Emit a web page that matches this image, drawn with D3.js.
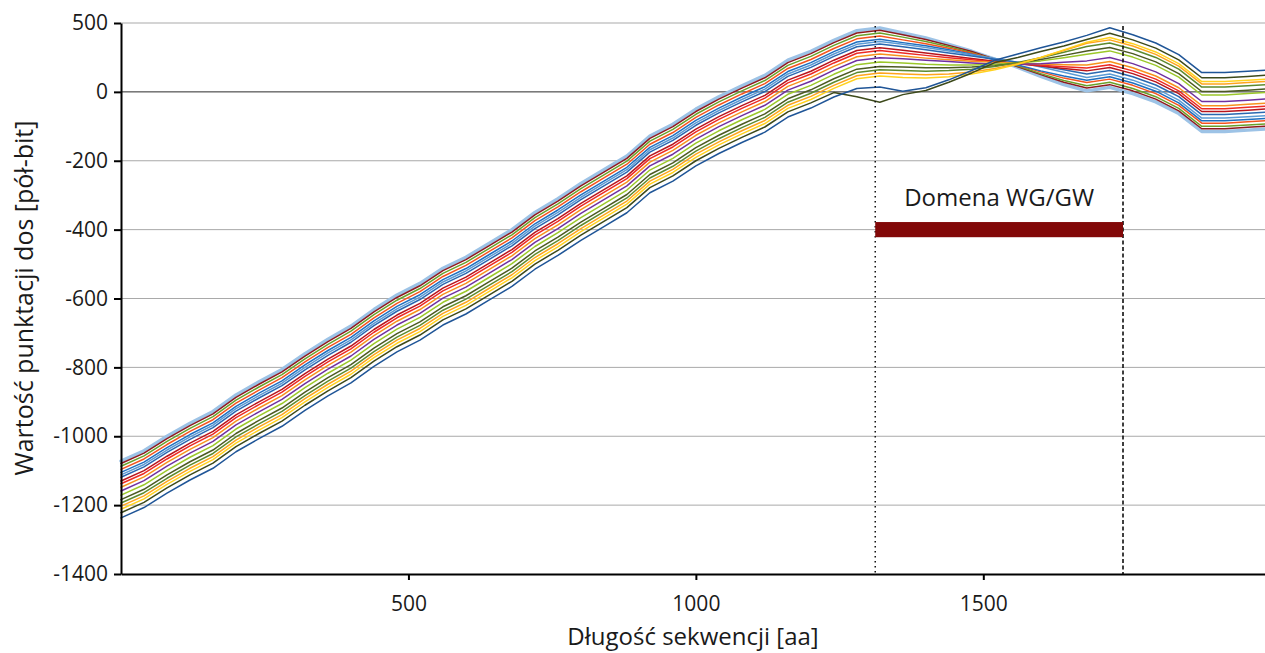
<!DOCTYPE html>
<html>
<head>
<meta charset="utf-8">
<script src="https://cdn.jsdelivr.net/npm/d3@7"></script>
<style>
  body { margin: 0; background: #ffffff; }
  svg { display: block; font-family: "Open Sans", "DejaVu Sans", sans-serif; }
</style>
</head>
<body>
<svg id="chart" width="1265" height="653"></svg>
<script>
// Sequence positions (aa) at which every score track is sampled
const positions = [0,40,80,120,160,200,240,280,320,360,400,440,480,520,560,600,640,680,720,760,800,840,880,920,960,1000,1040,1080,1120,1160,1200,1240,1280,1320,1360,1400,1440,1480,1520,1560,1600,1640,1680,1720,1760,1800,1840,1880,1920,1960,1990];

// Cumulative dot-plot scores (half-bits), one track per scoring setting
const sLightBlue  = [-1072,-1042,-1000,-962,-928,-880,-842,-806,-760,-718,-680,-632,-590,-556,-512,-480,-440,-400,-350,-310,-266,-226,-186,-128,-94,-50,-14,18,48,92,118,150,178,186,171,157,138,118,95,71,45,21,3,13,-5,-29,-63,-115,-115,-111,-108];
const sDarkRed    = [-1079,-1049,-1007,-969,-935,-887,-849,-813,-767,-725,-687,-639,-597,-563,-519,-487,-447,-407,-357,-317,-273,-233,-193,-135,-101,-57,-21,11,41,85,111,143,171,179,166,152,135,117,95,73,50,28,11,21,3,-21,-55,-107,-107,-103,-100];
const sGreen      = [-1087,-1057,-1015,-977,-943,-895,-857,-821,-775,-733,-695,-647,-605,-571,-527,-495,-455,-415,-365,-325,-281,-241,-201,-143,-109,-65,-29,3,33,77,103,135,163,171,159,146,131,114,94,75,53,33,18,28,10,-14,-48,-100,-100,-96,-93];
const sOrangeRed  = [-1096,-1066,-1024,-986,-952,-904,-866,-830,-784,-742,-704,-656,-614,-580,-536,-504,-464,-424,-374,-334,-290,-250,-210,-152,-118,-74,-38,-6,24,68,94,126,154,162,151,140,127,112,94,77,58,40,27,37,19,-5,-39,-91,-91,-87,-84];
const sBlue       = [-1105,-1075,-1033,-995,-961,-913,-875,-839,-793,-751,-713,-665,-623,-589,-545,-513,-473,-433,-383,-343,-299,-259,-219,-161,-127,-83,-47,-15,15,59,85,117,145,153,143,134,122,109,93,78,61,46,34,44,26,2,-32,-84,-84,-80,-77];
const sSkyBlue    = [-1112,-1082,-1040,-1002,-968,-920,-882,-846,-800,-758,-720,-672,-630,-596,-552,-520,-480,-440,-390,-350,-306,-266,-226,-168,-134,-90,-54,-22,8,52,78,110,138,146,138,129,119,108,97,86,72,57,42,52,34,10,-24,-76,-76,-72,-69];
const sSteelBlue  = [-1119,-1089,-1047,-1009,-975,-927,-889,-853,-807,-765,-727,-679,-637,-603,-559,-527,-487,-447,-397,-357,-313,-273,-233,-175,-141,-97,-61,-29,1,45,71,103,131,139,131,122,113,104,95,86,76,64,52,62,44,20,-14,-66,-66,-62,-59];
const sCrimson    = [-1130,-1100,-1058,-1020,-986,-938,-900,-864,-818,-776,-738,-690,-648,-614,-570,-538,-498,-458,-408,-368,-324,-284,-244,-186,-152,-108,-72,-40,-10,34,60,92,120,128,121,113,105,97,89,82,75,68,61,71,53,29,-5,-57,-57,-53,-50];
const sRed        = [-1138,-1108,-1066,-1028,-994,-946,-908,-872,-826,-784,-746,-698,-656,-622,-578,-546,-506,-466,-416,-376,-332,-292,-252,-194,-160,-116,-80,-48,-18,26,52,84,112,120,113,106,99,93,87,82,77,73,69,79,61,37,3,-49,-49,-45,-42];
const sOrange     = [-1148,-1118,-1076,-1038,-1004,-956,-918,-882,-836,-794,-756,-708,-666,-632,-588,-556,-516,-476,-426,-386,-342,-302,-262,-204,-170,-126,-90,-58,-28,16,42,74,102,110,104,98,93,89,86,83,81,79,78,88,70,46,12,-40,-40,-36,-33];
const sPurple     = [-1159,-1129,-1087,-1049,-1015,-967,-929,-893,-847,-805,-767,-719,-677,-643,-599,-567,-527,-487,-437,-397,-353,-313,-273,-215,-181,-137,-101,-69,-39,5,31,63,91,99,96,92,88,84,80,80,82,86,90,100,82,58,24,-28,-28,-24,-21];
const sLime       = [-1171,-1141,-1099,-1061,-1027,-979,-941,-905,-859,-817,-779,-731,-689,-655,-611,-579,-539,-499,-449,-409,-365,-325,-285,-227,-193,-149,-113,-81,-51,-7,19,51,79,87,84,80,78,78,80,84,90,99,109,119,101,77,43,-9,-9,-5,-2];
const sDarkOlive  = [-1184,-1154,-1112,-1074,-1040,-992,-954,-918,-872,-830,-792,-744,-702,-668,-624,-592,-552,-512,-462,-422,-378,-338,-298,-240,-206,-162,-126,-94,-64,-20,6,38,66,74,72,70,70,72,76,84,94,106,119,129,111,87,53,1,1,5,8];
const sOliveGreen = [-1194,-1164,-1122,-1084,-1050,-1002,-964,-928,-882,-840,-802,-754,-712,-678,-634,-602,-562,-522,-472,-432,-388,-348,-308,-250,-216,-172,-136,-104,-74,-30,-4,28,56,64,62,60,62,66,74,85,99,115,132,142,124,100,66,14,14,18,21];
const sAmber      = [-1203,-1173,-1131,-1093,-1059,-1011,-973,-937,-891,-849,-811,-763,-721,-687,-643,-611,-571,-531,-481,-441,-397,-357,-317,-259,-225,-181,-145,-113,-83,-39,-13,19,47,55,52,50,52,58,68,82,100,120,141,151,133,109,75,23,23,27,30];
const sYellow     = [-1212,-1182,-1140,-1102,-1068,-1020,-982,-946,-900,-858,-820,-772,-730,-696,-652,-620,-580,-540,-490,-450,-406,-366,-326,-268,-234,-190,-154,-122,-92,-48,-22,10,38,46,42,40,44,52,64,80,100,122,144,158,140,116,82,30,30,34,37];
const sDeepOlive  = [-1222,-1192,-1150,-1112,-1078,-1030,-992,-956,-910,-868,-830,-782,-740,-706,-662,-630,-590,-550,-500,-460,-416,-376,-336,-278,-244,-200,-164,-132,-102,-58,-32,-2,-14,-30,-8,4,28,55,85,100,117,133,152,170,151,127,93,41,41,45,48];
const sNavy       = [-1237,-1207,-1165,-1127,-1093,-1045,-1007,-971,-925,-883,-845,-797,-755,-721,-677,-645,-605,-565,-515,-475,-431,-391,-351,-293,-259,-215,-179,-147,-117,-73,-47,-15,10,14,2,12,35,62,92,110,128,145,164,186,166,142,108,56,56,60,63];

// Axis ticks
const xTickValues = [500, 1000, 1500];
const yTickValues = [200, 0, -200, -400, -600, -800, -1000, -1200, -1400];
const yTickLabels = ["500", "0", "-200", "-400", "-600", "-800", "-1000", "-1200", "-1400"];

// Annotated domain span (aa) and its label
const domainSpan = [1312, 1743];
const domainLabel = "Domena WG/GW";

// Track styles, drawn in this order
const tracks = [
  { values: sLightBlue,  color: "#9dc3e6", width: 3.4 },
  { values: sDarkRed,    color: "#8e1b1f", width: 1.5 },
  { values: sGreen,      color: "#6aa12a", width: 1.5 },
  { values: sOrangeRed,  color: "#f4541e", width: 1.5 },
  { values: sBlue,       color: "#1f6fc0", width: 1.5 },
  { values: sSkyBlue,    color: "#5b9bd5", width: 1.5 },
  { values: sSteelBlue,  color: "#2a68b0", width: 1.5 },
  { values: sCrimson,    color: "#b8141c", width: 1.5 },
  { values: sRed,        color: "#ee2a24", width: 1.5 },
  { values: sOrange,     color: "#f7921e", width: 1.5 },
  { values: sPurple,     color: "#7030a0", width: 1.5 },
  { values: sLime,       color: "#9cc82a", width: 1.5 },
  { values: sDarkOlive,  color: "#4c5a22", width: 1.5 },
  { values: sOliveGreen, color: "#5d8a2e", width: 1.5 },
  { values: sAmber,      color: "#ffa51c", width: 1.5 },
  { values: sYellow,     color: "#ffd21e", width: 1.5 },
  { values: sDeepOlive,  color: "#3d4a1b", width: 1.5 },
  { values: sNavy,       color: "#1f5597", width: 1.5 }
];

const svg = d3.select("#chart");
const plotLeft = 121, plotRight = 1265, plotTop = 23, plotBottom = 574;

const x = d3.scaleLinear().domain([0, 1990]).range([plotLeft, plotRight]);
const y = d3.scaleLinear().domain([-1400, 200]).range([plotBottom, plotTop]);

// Horizontal gridlines
svg.append("g")
  .selectAll("line")
  .data(yTickValues.filter(v => v !== -1400))
  .join("line")
  .attr("x1", plotLeft).attr("x2", plotRight)
  .attr("y1", d => y(d)).attr("y2", d => y(d))
  .attr("stroke", d => d === 0 ? "#2b2b2b" : "#a9a9a9")
  .attr("stroke-width", 1);

// Score tracks
const line = d3.line()
  .x((d, i) => x(positions[i]))
  .y(d => y(d));

svg.append("g")
  .attr("fill", "none")
  .attr("stroke-linejoin", "round")
  .attr("stroke-linecap", "round")
  .selectAll("path")
  .data(tracks)
  .join("path")
  .attr("d", d => line(d.values))
  .attr("stroke", d => d.color)
  .attr("stroke-width", d => d.width);

// Domain boundaries
svg.append("line")
  .attr("x1", x(domainSpan[0])).attr("x2", x(domainSpan[0]))
  .attr("y1", plotTop + 3).attr("y2", plotBottom)
  .attr("stroke", "#111").attr("stroke-width", 1.5)
  .attr("stroke-dasharray", "1.5,3.5");

svg.append("line")
  .attr("x1", x(domainSpan[1])).attr("x2", x(domainSpan[1]))
  .attr("y1", plotTop + 3).attr("y2", plotBottom)
  .attr("stroke", "#111").attr("stroke-width", 1.6)
  .attr("stroke-dasharray", "4,2.5");

// Domain bar and label
svg.append("rect")
  .attr("x", x(domainSpan[0]))
  .attr("width", x(domainSpan[1]) - x(domainSpan[0]))
  .attr("y", y(-378))
  .attr("height", y(-422) - y(-378))
  .attr("fill", "#820808");

svg.append("text")
  .attr("x", (x(domainSpan[0]) + x(domainSpan[1])) / 2)
  .attr("y", y(-330))
  .attr("text-anchor", "middle")
  .attr("font-size", 24)
  .attr("fill", "#1a1a1a")
  .text(domainLabel);

// Axes
const yAxis = svg.append("g")
  .attr("transform", `translate(${plotLeft},0)`)
  .call(d3.axisLeft(y).tickValues(yTickValues)
    .tickFormat((d, i) => yTickLabels[i])
    .tickSize(7).tickSizeOuter(0).tickPadding(6));

const xAxis = svg.append("g")
  .attr("transform", `translate(0,${plotBottom})`)
  .call(d3.axisBottom(x).tickValues(xTickValues)
    .tickFormat(d3.format("d"))
    .tickSize(6).tickSizeOuter(0).tickPadding(16));

[yAxis, xAxis].forEach(g => {
  g.select(".domain").attr("stroke", "#000").attr("stroke-width", 2);
  g.selectAll(".tick line").attr("stroke", "#000").attr("stroke-width", 2);
  g.selectAll(".tick text")
    .attr("font-size", 21)
    .attr("font-family", "\"Open Sans\", sans-serif")
    .attr("fill", "#1a1a1a");
});

// Axis titles
svg.append("text")
  .attr("x", 693)
  .attr("y", 645)
  .attr("text-anchor", "middle")
  .attr("font-size", 24)
  .attr("fill", "#1a1a1a")
  .text("Długość sekwencji [aa]");

svg.append("text")
  .attr("transform", "translate(33,298) rotate(-90)")
  .attr("text-anchor", "middle")
  .attr("font-size", 25)
  .attr("fill", "#1a1a1a")
  .text("Wartość punktacji dos [pół-bit]");
</script>
</body>
</html>
